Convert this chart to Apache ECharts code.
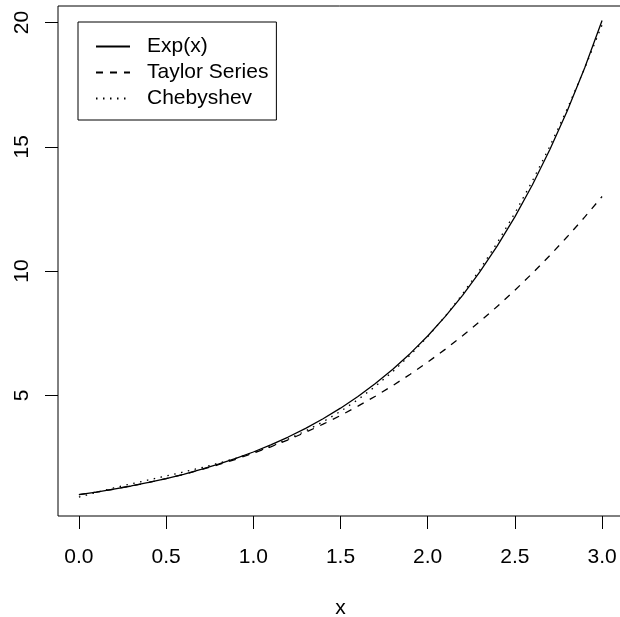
<!DOCTYPE html>
<html>
<head>
<meta charset="utf-8">
<script src="https://cdn.jsdelivr.net/npm/echarts@6/dist/echarts.min.js"></script>
<style>
html,body{margin:0;padding:0;background:#fff;}
#chart{width:620px;height:617px;}
</style>
</head>
<body>
<div id="chart"></div>
<script>
var xValues = [0.0,0.1,0.2,0.3,0.4,0.5,0.6,0.7,0.8,0.9,1.0,1.1,1.2,1.3,1.4,1.5,1.6,1.7,1.8,1.9,2.0,2.1,2.2,2.3,2.4,2.5,2.6,2.7,2.8,2.9,3.0];
var expValues = [1.000,1.105,1.221,1.350,1.492,1.649,1.822,2.014,2.226,2.460,2.718,3.004,3.320,3.669,4.055,4.482,4.953,5.474,6.050,6.686,7.389,8.166,9.025,9.974,11.023,12.182,13.464,14.880,16.445,18.174,20.086];
var taylorValues = [1.000,1.105,1.221,1.350,1.491,1.646,1.816,2.002,2.205,2.427,2.667,2.927,3.208,3.511,3.837,4.188,4.563,4.964,5.392,5.848,6.333,6.849,7.395,7.973,8.584,9.229,9.909,10.626,11.379,12.170,13.000];
var chebyValues = [0.902,1.095,1.271,1.436,1.595,1.752,1.913,2.083,2.266,2.468,2.694,2.949,3.237,3.564,3.935,4.354,4.828,5.360,5.956,6.621,7.360,8.177,9.078,10.069,11.153,12.336,13.622,15.018,16.528,18.157,19.909];
var seriesNames = ['Exp(x)', 'Taylor Series', 'Chebyshev'];
var xTicks = [0, 0.5, 1.0, 1.5, 2.0, 2.5, 3.0];
var yTicks = [5, 10, 15, 20];

function pairs(ys){ return xValues.map(function(x,i){ return [x, ys[i]]; }); }

var font = 'Liberation Sans, Arial, Helvetica, sans-serif';
var chart = echarts.init(document.getElementById('chart'), null, {renderer:'canvas'});
chart.setOption({
  animation: false,
  backgroundColor: '#fff',
  grid: {left: 58, top: 6, width: 565, height: 510, outerBoundsMode: 'none', containLabel: false,
         show: true, borderColor: '#000', borderWidth: 1, backgroundColor: 'transparent'},
  legend: {
    orient: 'vertical', left: 78, top: 22,
    padding: [14, 8, 11, 17],
    borderColor: '#000', borderWidth: 1, borderRadius: 0, backgroundColor: '#fff',
    itemWidth: 34, itemHeight: 21, itemGap: 5,
    itemStyle: {opacity: 0},
    lineStyle: {opacity: 1},
    textStyle: {fontFamily: font, fontSize: 21, color: '#000', lineHeight: 21, padding: [0,0,0,12]},
    data: seriesNames.map(function(n){ return {name: n}; })
  },
  xAxis: {
    type: 'value', min: -0.12, max: 3.12,
    name: 'x', nameLocation: 'middle', nameGap: 82,
    nameTextStyle: {fontFamily: font, fontSize: 21, color: '#000'},
    axisLine: {show: false, onZero: false},
    splitLine: {show: false},
    axisTick: {show: true, inside: false, length: 13, lineStyle: {color: '#000', width: 1}, customValues: xTicks},
    axisLabel: {show: true, margin: 31, fontFamily: font, fontSize: 21, color: '#000', customValues: xTicks,
      formatter: function(v){ return v.toFixed(1); }}
  },
  yAxis: {
    type: 'value', min: 0.142, max: 20.669,
    axisLine: {show: false, onZero: false},
    splitLine: {show: false},
    axisTick: {show: true, inside: false, length: 13, lineStyle: {color: '#000', width: 1}, customValues: yTicks},
    axisLabel: {show: true, margin: 36, rotate: 90, align: 'center', verticalAlign: 'middle',
      fontFamily: font, fontSize: 21, color: '#000', customValues: yTicks,
      formatter: function(v){ return String(Math.round(v)); }}
  },
  series: [
    {name: seriesNames[0], type: 'line', data: pairs(expValues), symbol: 'none', smooth: false,
     lineStyle: {color: '#000', width: 1.3, type: 'solid'}, itemStyle: {color: '#000'}},
    {name: seriesNames[1], type: 'line', data: pairs(taylorValues), symbol: 'none', smooth: false,
     lineStyle: {color: '#000', width: 1.3, type: [7, 7]}, itemStyle: {color: '#000'}},
    {name: seriesNames[2], type: 'line', data: pairs(chebyValues), symbol: 'none', smooth: false,
     lineStyle: {color: '#000', width: 1.3, type: [1.5, 5.5]}, itemStyle: {color: '#000'}}
  ]
});
</script>
</body>
</html>
